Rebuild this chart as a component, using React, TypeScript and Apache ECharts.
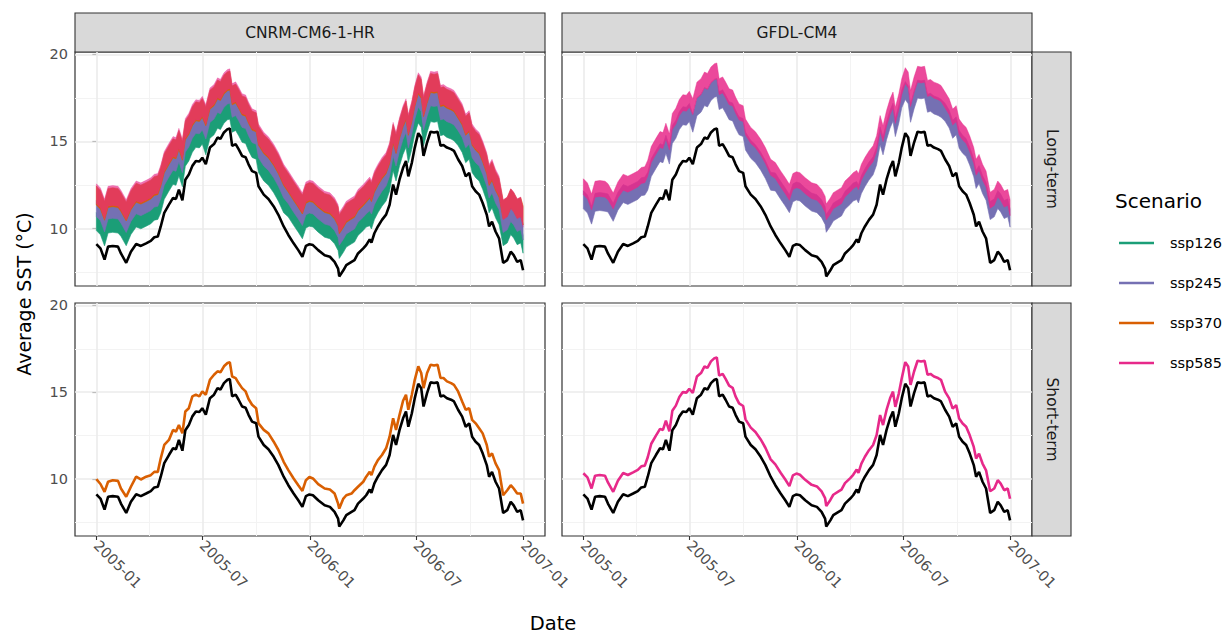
import React, { useEffect, useRef } from 'react';
import * as echarts from 'echarts';

// Days since 2005-01-01
const days = [0,7,14,20,28,37,42,51,59,68,76,85,93,99,105,110,116,124,131,136,141,147,152,158,164,170,176,181,187,194,201,207,212,218,224,228,232,238,243,249,255,260,266,273,277,286,294,303,311,320,328,337,345,352,358,364,370,379,390,399,407,413,415,422,427,436,441,447,456,461,467,470,475,481,488,495,501,507,512,518,524,529,533,539,544,550,555,559,565,571,577,583,588,593,599,606,611,618,625,631,637,642,648,654,660,667,671,676,682,688,695,702,708,713,719,725,729];

const observed = [9.10,8.86,8.22,8.96,9.00,8.96,8.57,8.03,8.67,9.11,9.00,9.15,9.29,9.50,9.54,10.12,10.90,11.37,11.76,11.70,12.24,11.62,12.80,13.10,13.60,13.88,13.85,14.07,13.70,14.65,14.85,15.23,15.15,15.52,15.71,15.75,14.75,14.85,14.56,14.17,14.10,13.69,13.30,13.20,12.43,11.95,11.70,11.27,10.79,10.12,9.63,9.15,8.76,8.38,9.00,9.10,9.05,8.76,8.47,8.38,8.09,7.70,7.25,7.60,7.90,8.09,8.19,8.57,8.86,9.05,9.38,9.19,9.73,10.12,10.50,10.80,11.37,12.53,11.95,12.82,13.49,13.88,13.00,13.78,14.65,15.48,15.23,14.17,14.94,15.56,15.52,15.56,14.75,14.80,14.65,14.56,14.46,13.98,13.59,13.00,13.20,12.43,12.14,11.95,11.47,10.79,10.12,10.40,9.83,9.44,8.03,8.19,8.67,8.47,8.09,8.19,7.60];

// CNRM-CM6-1-HR, long-term
const cnrmLong126 = [10.40,10.16,9.52,10.26,10.30,10.26,10.07,9.53,10.17,10.61,10.50,10.65,10.79,11.00,11.04,11.42,12.20,12.67,13.06,13.00,13.54,12.92,14.10,14.40,14.90,15.18,15.15,15.37,14.75,15.70,15.90,16.28,16.20,16.57,16.76,16.80,16.05,16.15,15.86,15.47,15.40,14.99,14.60,14.50,13.73,13.25,13.00,12.57,12.09,11.42,11.18,10.70,10.31,9.93,10.55,10.65,10.60,10.31,10.02,9.93,9.64,9.25,8.80,9.15,9.45,9.64,9.74,10.12,10.41,10.60,10.68,10.49,11.03,11.42,11.80,12.10,12.67,13.83,13.25,14.12,14.79,15.18,14.30,15.08,15.95,16.58,16.33,15.27,16.04,16.66,16.62,16.66,15.85,15.90,15.75,15.66,15.56,15.28,14.89,14.30,14.50,13.73,13.44,13.25,12.77,12.09,11.42,11.70,11.13,10.74,9.53,9.69,10.17,9.97,9.59,9.69,9.10];
const cnrmLong245 = [11.15,10.91,10.27,11.01,11.05,11.01,10.77,10.23,10.87,11.31,11.20,11.35,11.49,11.70,11.74,12.17,12.95,13.42,13.81,13.75,14.29,13.67,14.85,15.15,15.65,15.93,15.90,16.12,15.60,16.55,16.75,17.13,17.05,17.42,17.61,17.65,16.85,16.95,16.66,16.27,16.20,15.79,15.40,15.30,14.53,14.05,13.80,13.37,12.89,12.22,11.88,11.40,11.01,10.63,11.25,11.35,11.30,11.01,10.72,10.63,10.34,9.95,9.50,9.85,10.15,10.34,10.44,10.82,11.11,11.30,11.48,11.29,11.83,12.22,12.60,12.90,13.47,14.63,14.05,14.92,15.59,15.98,15.10,15.88,16.75,17.43,17.18,16.12,16.89,17.51,17.47,17.51,16.70,16.75,16.60,16.51,16.41,16.08,15.69,15.10,15.30,14.53,14.24,14.05,13.57,12.89,12.22,12.50,11.93,11.54,10.23,10.39,10.87,10.67,10.29,10.39,9.80];
const cnrmLong370 = [11.90,11.66,11.02,11.76,11.80,11.76,11.52,10.98,11.62,12.06,11.95,12.10,12.24,12.45,12.49,12.97,13.75,14.22,14.61,14.55,15.09,14.47,15.65,15.95,16.45,16.73,16.70,16.92,16.45,17.40,17.60,17.98,17.90,18.27,18.46,18.50,17.65,17.75,17.46,17.07,17.00,16.59,16.20,16.10,15.33,14.85,14.60,14.17,13.69,13.02,12.63,12.15,11.76,11.38,12.00,12.10,12.05,11.76,11.47,11.38,11.09,10.70,10.25,10.60,10.90,11.09,11.19,11.57,11.86,12.05,12.28,12.09,12.63,13.02,13.40,13.70,14.27,15.43,14.85,15.72,16.39,16.78,15.90,16.68,17.55,18.28,18.03,16.97,17.74,18.36,18.32,18.36,17.55,17.60,17.45,17.36,17.26,16.88,16.49,15.90,16.10,15.33,15.04,14.85,14.37,13.69,13.02,13.30,12.73,12.34,11.08,11.24,11.72,11.52,11.14,11.24,10.75];
const cnrmLong585 = [12.00,11.76,11.12,11.86,11.90,11.86,11.62,11.08,11.72,12.16,12.05,12.20,12.34,12.55,12.59,13.07,13.85,14.32,14.71,14.65,15.19,14.57,15.75,16.05,16.55,16.83,16.80,17.02,16.55,17.50,17.70,18.08,18.00,18.37,18.56,18.60,17.75,17.85,17.56,17.17,17.10,16.69,16.30,16.20,15.43,14.95,14.70,14.27,13.79,13.12,12.73,12.25,11.86,11.48,12.10,12.20,12.15,11.86,11.57,11.48,11.19,10.80,10.35,10.70,11.00,11.19,11.29,11.67,11.96,12.15,12.38,12.19,12.73,13.12,13.50,13.80,14.37,15.53,14.95,15.82,16.49,16.88,16.00,16.78,17.65,18.38,18.13,17.07,17.84,18.46,18.42,18.46,17.65,17.70,17.55,17.46,17.36,16.98,16.59,16.00,16.20,15.43,15.14,14.95,14.47,13.79,13.12,13.40,12.83,12.44,11.08,11.24,11.72,11.52,11.14,11.24,10.65];

// GFDL-CM4, long-term
const gfdlLong245 = [11.65,11.41,10.77,11.51,11.55,11.51,11.47,10.93,11.57,12.01,11.90,12.05,12.19,12.40,12.44,12.72,13.50,13.97,14.36,14.30,14.84,14.22,15.40,15.70,16.20,16.48,16.45,16.67,16.05,17.00,17.20,17.58,17.50,17.87,18.06,18.10,17.35,17.45,17.16,16.77,16.70,16.29,15.90,15.80,15.03,14.55,14.30,13.87,13.39,12.72,12.68,12.20,11.81,11.43,12.05,12.15,12.10,11.81,11.52,11.43,11.14,10.75,10.30,10.65,10.95,11.14,11.24,11.62,11.91,12.10,12.18,11.99,12.53,12.92,13.30,13.60,14.17,15.33,14.75,15.62,16.29,16.68,15.80,16.58,17.45,17.93,17.68,16.62,17.39,18.01,17.97,18.01,17.20,17.25,17.10,17.01,16.91,16.68,16.29,15.70,15.90,15.13,14.84,14.65,14.17,13.49,12.82,13.10,12.53,12.14,11.03,11.19,11.67,11.47,11.09,11.19,10.60];
const gfdlLong585 = [12.40,12.16,11.52,12.26,12.30,12.26,12.12,11.58,12.22,12.66,12.55,12.70,12.84,13.05,13.09,13.47,14.25,14.72,15.11,15.05,15.59,14.97,16.15,16.45,16.95,17.23,17.20,17.42,17.00,17.95,18.15,18.53,18.45,18.82,19.01,19.05,18.15,18.25,17.96,17.57,17.50,17.09,16.70,16.60,15.83,15.35,15.10,14.67,14.19,13.52,13.33,12.85,12.46,12.08,12.70,12.80,12.75,12.46,12.17,12.08,11.79,11.40,10.95,11.30,11.60,11.79,11.89,12.27,12.56,12.75,12.88,12.69,13.23,13.62,14.00,14.30,14.87,16.03,15.45,16.32,16.99,17.38,16.50,17.28,18.15,18.78,18.53,17.47,18.24,18.86,18.82,18.86,18.05,18.10,17.95,17.86,17.76,17.38,16.99,16.40,16.60,15.83,15.54,15.35,14.87,14.19,13.52,13.80,13.23,12.84,11.63,11.79,12.27,12.07,11.69,11.79,11.20];

// Short-term
const cnrmShort370 = [9.98,9.70,9.25,9.83,9.92,9.88,9.44,8.96,9.54,10.12,9.96,10.12,10.21,10.40,10.40,11.18,11.95,12.24,12.82,12.72,13.10,12.62,13.88,14.07,14.75,14.85,14.75,15.04,14.85,15.71,16.00,16.20,16.14,16.49,16.68,16.72,15.90,15.81,15.52,15.23,15.04,14.60,14.27,14.07,13.20,12.82,12.62,12.14,11.66,10.98,10.50,10.02,9.63,9.30,9.92,10.10,10.02,9.69,9.44,9.38,9.15,8.57,8.28,8.86,9.05,9.15,9.34,9.54,9.83,10.12,10.40,10.21,10.70,11.08,11.37,11.76,12.43,13.49,12.82,13.69,14.50,14.85,13.98,14.85,15.71,16.49,16.10,15.23,16.10,16.58,16.53,16.58,15.81,15.81,15.62,15.52,15.42,15.04,14.46,13.98,14.07,13.40,13.20,12.92,12.62,11.95,11.27,11.47,10.89,10.50,9.05,9.34,9.63,9.44,9.15,9.15,8.57];
const gfdlShort585 = [10.32,10.08,9.44,10.18,10.22,10.18,9.79,9.25,9.89,10.33,10.22,10.37,10.51,10.72,10.76,11.24,12.02,12.49,12.88,12.82,13.36,12.74,13.92,14.22,14.72,15.00,14.97,15.19,14.95,15.90,16.10,16.48,16.40,16.77,16.96,17.00,15.95,16.05,15.76,15.37,15.25,14.75,14.35,14.20,13.43,12.95,12.70,12.27,11.79,11.12,10.83,10.35,9.96,9.58,10.20,10.30,10.23,9.94,9.65,9.56,9.27,8.88,8.43,8.78,9.08,9.27,9.37,9.75,10.04,10.23,10.53,10.34,10.88,11.27,11.65,11.95,12.52,13.68,13.10,13.97,14.64,15.03,14.15,14.93,15.80,16.73,16.48,15.42,16.19,16.81,16.77,16.81,16.00,16.05,15.90,15.81,15.71,15.03,14.64,14.05,14.25,13.48,13.19,13.00,12.52,11.84,11.17,11.45,10.88,10.49,9.28,9.44,9.92,9.72,9.34,9.44,8.85];

const models = ['CNRM-CM6-1-HR', 'GFDL-CM4'];
const horizons = ['Long-term', 'Short-term'];
const scenarios = ['ssp126', 'ssp245', 'ssp370', 'ssp585'];
const scenarioColors = ['#1B9E77', '#7570B3', '#D95F02', '#E7298A'];

const xTickDays = [0, 181, 365, 546, 730];
const xTickLabels = ['2005-01', '2005-07', '2006-01', '2006-07', '2007-01'];
const xMinorDays = [90.5, 273, 455.5, 638];
const yTicks = [10, 15, 20];
const yMinor = [7.5, 12.5, 17.5];

const FONT = 'DejaVu Sans';

const panels = [
  { left: 75, top: 52, width: 470, height: 234, showX: false, showY: true },
  { left: 562, top: 52, width: 470, height: 234, showX: false, showY: false },
  { left: 75, top: 303, width: 470, height: 233, showX: true, showY: true },
  { left: 562, top: 303, width: 470, height: 233, showX: true, showY: false },
];

function pairs(values: number[]) {
  return days.map((d, i) => [d, values[i]]);
}

export default function App() {
  const ref = useRef<HTMLDivElement>(null);
  useEffect(() => {
    const chart = echarts.init(ref.current!, null, { renderer: 'svg' });

    const grid = panels.map((p) => ({
      left: p.left, top: p.top, width: p.width, height: p.height,
      show: true, backgroundColor: '#FFFFFF', borderColor: '#333333', borderWidth: 1.2,
    }));

    const xAxis = panels.map((p, i) => ({
      type: 'value', gridIndex: i, min: -36.5, max: 766.5,
      axisLine: { show: false }, splitLine: { show: false },
      axisTick: { show: p.showX, customValues: xTickDays, length: 4, lineStyle: { color: '#333333', width: 1.1 } },
      axisLabel: {
        show: p.showX, customValues: xTickDays, rotate: -45, margin: 7,
        color: '#4D4D4D', fontSize: 14.5, fontFamily: FONT,
        formatter: (v: number) => xTickLabels[xTickDays.indexOf(v)] ?? '',
      },
    }));

    const yAxis = panels.map((p, i) => ({
      type: 'value', gridIndex: i, min: 6.70, max: 20.14,
      axisLine: { show: false }, splitLine: { show: false },
      axisTick: { show: p.showY, customValues: yTicks, length: 4, lineStyle: { color: '#333333', width: 1.1 } },
      axisLabel: { show: p.showY, customValues: yTicks, margin: 7, color: '#4D4D4D', fontSize: 14.5, fontFamily: FONT },
    }));

    const gridLineSeries = panels.map((_, i) => ({
      type: 'line', xAxisIndex: i, yAxisIndex: i, data: [], z: 1, silent: true,
      markLine: {
        z: 1, symbol: 'none', silent: true, animation: false, label: { show: false },
        data: [
          ...xMinorDays.map((d) => ({ xAxis: d, lineStyle: { color: '#F3F3F3', width: 1, type: 'solid' } })),
          ...yMinor.map((v) => ({ yAxis: v, lineStyle: { color: '#F3F3F3', width: 1, type: 'solid' } })),
          ...xTickDays.map((d) => ({ xAxis: d, lineStyle: { color: '#EBEBEB', width: 1.6, type: 'solid' } })),
          ...yTicks.map((v) => ({ yAxis: v, lineStyle: { color: '#EBEBEB', width: 1.6, type: 'solid' } })),
        ],
      },
    }));

    // A thick trace whose vertical thickness (px) is constant, drawn through the axes.
    const band = (name: string, gi: number, values: number[], color: string, halfPx: number, opacity = 1) => ({
      type: 'custom', name, xAxisIndex: gi, yAxisIndex: gi, silent: true, z: 2, clip: true,
      data: [[days[0], values[0]]],
      renderItem: (_params: any, api: any) => {
        const centre = days.map((d, i) => api.coord([d, values[i]]));
        const upper = centre.map((c: number[]) => [c[0], c[1] - halfPx]);
        const lower = centre.map((c: number[]) => [c[0], c[1] + halfPx]).reverse();
        return {
          type: 'polygon',
          shape: { points: upper.concat(lower) },
          style: { fill: color, opacity, stroke: color, lineWidth: 0.6, strokeOpacity: opacity },
        };
      },
    });

    const line = (name: string, gi: number, values: number[], color: string, width: number) => ({
      type: 'line', name, xAxisIndex: gi, yAxisIndex: gi, data: pairs(values),
      symbol: 'none', showSymbol: false, silent: true, z: 3,
      lineStyle: { color, width },
    });

    const series: any[] = [
      ...gridLineSeries,
      // CNRM long-term
      band('ssp126', 0, cnrmLong126, scenarioColors[0], 9),
      band('ssp245', 0, cnrmLong245, scenarioColors[1], 8),
      band('ssp370', 0, cnrmLong370, scenarioColors[2], 9.5),
      band('ssp585', 0, cnrmLong585, scenarioColors[3], 10, 0.65),
      line('Observed', 0, observed, '#000000', 2.6),
      // GFDL long-term
      band('ssp245', 1, gfdlLong245, scenarioColors[1], 9),
      band('ssp585', 1, gfdlLong585, scenarioColors[3], 8, 0.85),
      line('Observed', 1, observed, '#000000', 2.6),
      // CNRM short-term
      line('ssp370', 2, cnrmShort370, scenarioColors[2], 2.6),
      line('Observed', 2, observed, '#000000', 2.6),
      // GFDL short-term
      line('ssp585', 3, gfdlShort585, scenarioColors[3], 2.6),
      line('Observed', 3, observed, '#000000', 2.6),
    ];

    const stripStyle = { fill: '#D9D9D9', stroke: '#333333', lineWidth: 1.1 };
    const txt = (text: string, x: number, y: number, size: number, fill: string, align = 'center', rotation = 0) => ({
      type: 'text', x, y, rotation,
      style: { text, fontSize: size, fontFamily: FONT, fill, align, verticalAlign: 'middle' },
    });
    const graphic: any[] = [
      { type: 'rect', shape: { x: 75, y: 13, width: 470, height: 39 }, style: stripStyle },
      { type: 'rect', shape: { x: 562, y: 13, width: 470, height: 39 }, style: stripStyle },
      { type: 'rect', shape: { x: 1032, y: 52, width: 39, height: 234 }, style: stripStyle },
      { type: 'rect', shape: { x: 1032, y: 303, width: 39, height: 233 }, style: stripStyle },
      txt(models[0], 310, 32.5, 15.5, '#1A1A1A'),
      txt(models[1], 797, 32.5, 15.5, '#1A1A1A'),
      txt(horizons[0], 1051.5, 169, 15.5, '#1A1A1A', 'center', -Math.PI / 2),
      txt(horizons[1], 1051.5, 419.5, 15.5, '#1A1A1A', 'center', -Math.PI / 2),
      txt('Date', 553, 623, 19.5, '#000000'),
      txt('Average SST (°C)', 24, 294, 19, '#000000', 'center', Math.PI / 2),
      txt('Scenario', 1115, 201, 20, '#000000', 'left'),
    ];
    const legendY = [243, 283, 323, 363];
    scenarios.forEach((s, i) => {
      graphic.push({ type: 'line', shape: { x1: 1119, y1: legendY[i], x2: 1154, y2: legendY[i] }, style: { stroke: scenarioColors[i], lineWidth: 2.6 } });
      graphic.push(txt(s, 1170, legendY[i], 14.5, '#000000', 'left'));
    });

    chart.setOption({
      animation: false,
      backgroundColor: '#FFFFFF',
      textStyle: { fontFamily: FONT },
      grid, xAxis, yAxis, series, graphic,
    });
    return () => chart.dispose();
  }, []);
  return <div ref={ref} style={{ position: 'absolute', left: 0, top: 0, width: 1232, height: 635 }} />;
}
